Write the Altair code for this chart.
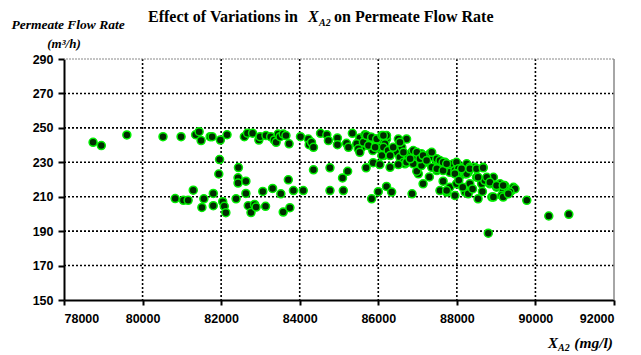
import altair as alt
import pandas as pd

# ---- data (X_A2 in mg/l, permeate flow in m3/h) ----
xa2 = [
    78740, 78950, 79600, 80520, 80980, 81350, 81440, 81490, 81720, 81770, 81980, 82150,
    82590, 82670, 82800, 82960,
    81960, 81940, 82440, 82430, 82430, 82630,
    81290, 80830, 81040, 81160, 81560, 81800, 81510, 81800, 82040, 82080, 82120, 82380,
    82630, 82690, 82850, 82760, 82890, 83060, 83130,
    82990, 83140, 83260, 83350, 83400, 83450, 83500, 83580, 83650, 83730, 84020, 84220,
    84240, 84300, 84350, 84530, 84690, 84730, 84960, 84960, 85190, 85240, 85340, 85490,
    85530, 85580, 85660, 85700, 85790, 85860, 85920, 86000, 86090, 86130, 86210, 86250,
    86140, 85450, 85490, 85530, 85620, 85700, 85750, 85830, 85960, 86000, 86090, 86170,
    86210, 85920, 86130, 86090, 86130,
    84350, 84770, 85220, 85090, 85690, 85870, 86040, 86300,
    83710, 83310, 83520, 83840, 84090, 84770, 85110, 83580, 83750, 85830, 86000, 86210,
    86340, 86860,
    86340, 86470, 86550, 86720, 86600, 86550, 86640, 86760, 86850, 86680, 86980, 87100,
    87190, 87310, 87400, 87360, 87490, 87570, 87490, 87610, 87700, 87780, 87820, 87910,
    87990, 87950, 88040, 88080, 88160, 88210, 88250, 88290, 87020, 87140, 87570, 87820,
    87740, 87950, 88210,
    86510, 86720, 86890, 86980, 87100, 87490, 87650,
    86250, 86300, 86380, 86510, 86550, 86640, 86810, 86890, 86980, 87060, 87140, 87230,
    87360, 87490, 87570, 87650, 87740,
    87990, 88330, 88460, 88670, 87990, 88250, 88330, 88500, 88630, 88710, 88840, 88930,
    89010, 89100, 89180, 89220, 89310, 89390, 89440, 89480, 88290, 88540, 88890, 89140,
    89350, 89780,
    88120, 88330, 88500, 88670, 87950, 88540, 88760, 88840, 89010, 89180, 88930, 89180,
    89310, 87740,
    87300, 87650, 88050, 88400, 88650, 88150,
    88800, 90340, 90850,
]
flow = [
    241.6, 239.7, 245.9, 244.9, 244.9, 246.0, 247.8, 242.6, 244.9, 244.9, 242.9, 246.0,
    244.9, 246.9, 246.9, 242.9,
    231.6, 223.2, 226.9, 221.0, 217.9, 219.0,
    213.8, 208.9, 207.9, 207.9, 208.8, 211.9, 203.8, 204.8, 207.1, 204.4, 200.7, 208.8,
    211.9, 204.8, 205.5, 200.8, 204.0, 213.1, 204.4,
    244.9, 245.5, 244.9, 243.0, 241.6, 246.4, 244.9, 246.4, 245.5, 240.7, 244.9, 243.5,
    240.2, 241.6, 238.7, 246.8, 246.0, 242.6, 244.1, 240.2, 241.0, 238.7, 246.8, 241.6,
    244.1, 238.7, 246.0, 240.7, 244.5, 236.8, 243.5, 240.7, 237.8, 241.6, 243.5, 234.9,
    233.9, 240.7, 237.8, 235.8, 241.6, 245.5, 239.7, 244.5, 243.5, 238.7, 245.5, 240.7,
    245.5, 238.7, 238.7, 233.9, 245.5,
    225.6, 226.8, 224.8, 220.9, 226.8, 229.8, 228.7, 227.1,
    219.8, 214.8, 211.7, 213.6, 213.6, 213.6, 213.6, 201.1, 203.6, 208.8, 212.9, 216.0,
    212.7, 211.7,
    235.8, 235.8, 242.6, 243.5, 238.7, 232.9, 230.0, 233.9, 235.8, 229.1, 232.9, 234.9,
    230.0, 234.9, 232.9, 227.1, 231.0, 229.1, 225.2, 226.2, 230.0, 227.1, 224.2, 229.1,
    230.0, 225.2, 226.2, 222.3, 227.1, 223.3, 229.1, 224.2, 223.3, 217.5, 213.6, 215.5,
    212.7, 210.7, 212.7,
    228.7, 230.0, 229.1, 224.8, 228.1, 226.2, 225.2,
    236.8, 233.9, 238.7, 243.5, 241.6, 235.8, 232.0, 236.8, 235.8, 232.0, 233.9, 231.0,
    235.8, 232.0, 231.0, 230.0, 229.1,
    223.3, 227.1, 227.1, 227.1, 217.5, 223.3, 217.5, 221.3, 217.5, 219.4, 217.5, 221.3,
    215.5, 217.5, 213.6, 216.5, 213.6, 213.6, 215.5, 214.6, 211.7, 208.8, 209.8, 210.7,
    212.7, 207.9,
    226.2, 226.2, 226.2, 226.8, 223.3, 221.3, 221.3, 218.4, 216.5, 216.5, 209.8, 209.8,
    211.7, 213.6,
    221.5, 219.0, 219.5, 214.5, 213.0, 215.5,
    188.8, 198.8, 199.8,
]

x_ticks = [78000, 80000, 82000, 84000, 86000, 88000, 90000, 92000]
y_ticks = [150, 170, 190, 210, 230, 250, 270, 290]
x_grid = [80000, 82000, 84000, 86000, 88000, 90000]
y_grid = [170, 190, 210, 230, 250, 270]

X_DOMAIN = [78000, 92000]
Y_DOMAIN = [150, 290]

pts = pd.DataFrame({"xa2": xa2, "flow": flow})

xs = alt.Scale(domain=X_DOMAIN, nice=False, zero=False)
ys = alt.Scale(domain=Y_DOMAIN, nice=False, zero=False)

x_axis = alt.Axis(values=x_ticks, format="d", title=None, grid=False,
                  tickSize=5, labelPadding=7, orient="bottom")
y_axis = alt.Axis(values=y_ticks, format="d", title=None, grid=False,
                  tickSize=6, labelPadding=5, orient="left")

vgrid = alt.Chart(pd.DataFrame({"g": x_grid})).mark_rule(
    color="black", strokeDash=[2, 2], strokeWidth=1.6
).encode(x=alt.X("g:Q", scale=xs, axis=x_axis))

hgrid = alt.Chart(pd.DataFrame({"g": y_grid})).mark_rule(
    color="black", strokeDash=[2, 2], strokeWidth=1.6
).encode(y=alt.Y("g:Q", scale=ys, axis=y_axis))

top_border = alt.Chart(pd.DataFrame({"g": [Y_DOMAIN[1]]})).mark_rule(
    color="#888888", strokeDash=[2, 1], strokeWidth=1
).encode(y=alt.Y("g:Q", scale=ys, axis=y_axis))

right_border = alt.Chart(pd.DataFrame({"g": [X_DOMAIN[1]]})).mark_rule(
    color="#888888", strokeWidth=1.5
).encode(x=alt.X("g:Q", scale=xs, axis=x_axis))

points = alt.Chart(pts).mark_circle(
    size=64, fill="#002d00", stroke="#00ee00", strokeWidth=1.5, opacity=1
).encode(
    x=alt.X("xa2:Q", scale=xs, axis=x_axis),
    y=alt.Y("flow:Q", scale=ys, axis=y_axis),
)


def txt(s, x, y, size, font="Liberation Serif", style="normal", weight="bold",
        align="left", baseline="alphabetic"):
    return alt.Chart(pd.DataFrame({"t": [s]})).mark_text(
        font=font, fontSize=size, fontStyle=style, fontWeight=weight,
        align=align, baseline=baseline, color="black"
    ).encode(text="t:N", x=alt.value(x), y=alt.value(y))


# title pieces (positions relative to plot origin)
t1 = txt("Effect of Variations in", 84, -37, 16)
t2 = txt("X", 244, -37, 16, style="italic")
t3 = txt("A2", 255, -33, 10, style="italic")
t4 = txt("on Permeate Flow Rate", 270, -37, 16)

# y-axis title
yt1 = txt("Permeate Flow Rate", 4, -30, 13.5, style="italic", align="center")
yt2 = txt("(m³/h)", 0, -11, 13, style="italic", align="center")

# x-axis title
xt1 = txt("X", 484, 289, 15, style="italic")
xt2 = txt("A2", 494, 292, 10, style="italic")
xt3 = txt("(mg/l)", 549, 289, 15.5, style="italic", align="right")

chart = alt.layer(
    vgrid, hgrid, top_border, right_border, points,
    t1, t2, t3, t4, yt1, yt2, xt1, xt2, xt3
).properties(
    width=550, height=241,
    autosize=alt.AutoSizeParams(type="none"),
    padding={"left": 64, "top": 59, "right": 27, "bottom": 55},
).configure_view(
    stroke=None
).configure_axis(
    labelFont="Liberation Sans", labelFontWeight="bold", labelFontSize=12.5,
    labelColor="black", domainColor="black", domainWidth=2,
    tickColor="black", tickWidth=2,
)

chart.save("out.html", embed_options={"renderer": "svg", "actions": False})
